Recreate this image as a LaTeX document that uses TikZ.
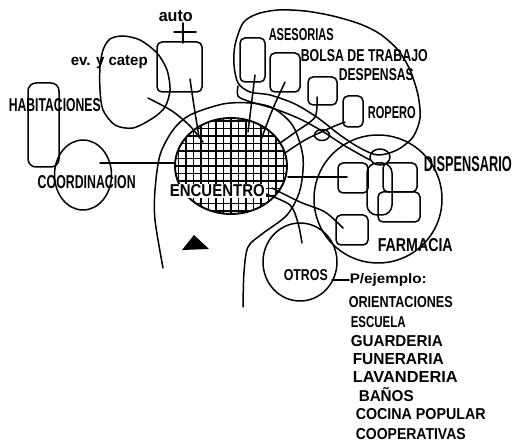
\documentclass[tikz,border=0pt]{standalone}
\usepackage{fontspec}
\setmainfont{Liberation Sans}
\usepackage{graphicx}
\usetikzlibrary{shapes.geometric}
\newcommand{\hw}[3]{\resizebox{#1pt}{#2pt}{\bfseries #3}}
\begin{document}
\begin{tikzpicture}[x=1pt,y=-1pt, line width=1.5pt, line cap=round, line join=round,
  sbox/.style={draw, rounded corners=5pt, inner sep=0pt},
  blob/.style={draw, ellipse, inner sep=0pt},
  txt/.style={inner sep=0pt, anchor=west},
  hatch/.style={draw, ellipse, line width=1.9pt, inner sep=0pt,
    path picture={\draw[line width=1.3pt] ([xshift=-3pt,yshift=-3pt]path picture bounding box.south west) grid[step=7.5pt] ([xshift=3pt,yshift=3pt]path picture bounding box.north east);}}]
\useasboundingbox[fill=white] (0,0) rectangle (514,446);

% central hatched area
\node[hatch, minimum width=112pt, minimum height=96pt] (enc) at (231,166) {};

% outer boundary around encuentro
\draw plot[smooth] coordinates {(163,268) (155,220) (155,190) (160,155) (173,130) (190,115) (223,104) (250,103) (273,108) (293,126) (303,157) (300,190) (287,215) (262,234) (248,247) (244,272) (243,307)};

% auto
\node[txt] (tauto) at (158,16) {\hw{34}{11}{auto}};
\coordinate (cr1) at (183,23); \coordinate (cr2) at (183,43);
\coordinate (cr3) at (174,32); \coordinate (cr4) at (196,32);
\draw (cr1) -- (cr2); \draw (cr3) -- (cr4);
\node[sbox, minimum width=45pt, minimum height=50pt] (autob) at (179.5,67) {};
\coordinate (au1) at (190,79); \coordinate (au2) at (199,137);
\draw (au1) .. controls (193,100) .. (au2);

% ev y catep blob
\draw plot[smooth cycle] coordinates {(100,67) (103,50) (110,39) (123,36) (140,40) (157,53) (167,70) (170,90) (165,107) (153,118) (133,128) (115,125) (103,110) (100,90)};
\node[txt] (tev) at (70,62) {\hw{77}{10}{ev. y catep}};
\coordinate (ev1) at (148,98); \coordinate (ev2) at (203,142);
\draw plot[smooth] coordinates {(ev1) (172,111) (190,126) (ev2)};

% habitaciones
\node[sbox, rounded corners=8pt, minimum width=31pt, minimum height=84pt] (hab) at (43.5,125) {};
\node[txt] (thab) at (8,105) {\hw{92}{13}{HABITACIONES}};

% coordinacion
\node[blob, minimum width=57pt, minimum height=70pt] (coord) at (83,175) {};
\node[txt] (tcoord) at (37,182) {\hw{98}{13}{COORDINACION}};
\coordinate (co1) at (100,163);
\draw (co1) -- (enc.west |- co1);

% services cloud
\draw plot[smooth cycle] coordinates {(235,45) (243,23) (257,14) (278,10) (305,11) (333,16) (360,24) (380,34) (398,50) (410,70) (418,95) (420,118) (413,137) (397,150) (378,155) (360,148) (340,135) (318,118) (295,104) (270,95) (250,92) (238,83) (234,65)};
\draw plot[smooth] coordinates {(238,86) (238,96) (248,101) (275,109) (300,119) (322,131) (345,146) (370,160)};

\node[sbox, minimum width=25pt, minimum height=44pt] (ases) at (252.5,60) {};
\node[txt] (tases) at (268,35) {\hw{65}{12}{ASESORIAS}};
\coordinate (as1) at (255,75); \coordinate (as2) at (248,132);
\draw (as1) -- (as2);

\node[sbox, minimum width=30pt, minimum height=39pt] (bolsa) at (285,72.5) {};
\node[txt] (tbolsa) at (300,56) {\hw{127}{12}{BOLSA DE TRABAJO}};
\coordinate (bo1) at (285,82); \coordinate (bo2) at (261,140);
\draw (bo1) .. controls (272,110) .. (bo2);

\node[sbox, minimum width=29pt, minimum height=28pt] (desp) at (322.5,91) {};
\node[txt] (tdesp) at (338,75) {\hw{75}{12}{DESPENSAS}};
\coordinate (de1) at (317,97); \coordinate (de2) at (280,143);
\draw plot[smooth] coordinates {(de1) (315,117) (297,131) (de2)};

\node[sbox, minimum width=20pt, minimum height=31pt] (rop) at (353,111.5) {};
\node[txt] (trop) at (367,113) {\hw{48}{12}{ROPERO}};
\coordinate (ro1) at (345,122); \coordinate (ro2) at (285,153);
\draw plot[smooth] coordinates {(ro1) (330,128) (305,140) (ro2)};
\node[blob, minimum width=15pt, minimum height=11pt] (loop1) at (322,135) {};

% dispensario
\node[draw, circle, minimum size=128pt, inner sep=0pt] (disp) at (378,199) {};
\node[blob, minimum width=20pt, minimum height=16pt] (dsm) at (380,157) {};
\node[txt] (tdisp) at (423,164) {\hw{88}{15}{DISPENSARIO}};
\node[sbox, minimum width=30pt, minimum height=30pt] (da) at (353,178) {};
\node[sbox, rounded corners=10pt, minimum width=25pt, minimum height=52pt] (dt) at (379.5,189) {};
\node[sbox, minimum width=34pt, minimum height=29pt] (db) at (400,177.5) {};
\node[sbox, minimum width=42pt, minimum height=30pt] (dc) at (399,207) {};
\coordinate (da1) at (347,177);
\draw (enc.east |- da1) -- (da1);

% farmacia
\node[sbox, minimum width=32pt, minimum height=30pt] (farm) at (352,230) {};
\node[txt] (tfarm) at (377,245) {\hw{75}{13}{FARMACIA}};
\coordinate (fa1) at (272,188); \coordinate (fa2) at (343,228);
\draw plot[smooth] coordinates {(fa1) (300,202) (325,212) (fa2)};

% otros
\node[blob, minimum width=74pt, minimum height=78pt] (otros) at (300,262) {};
\node[txt] (totros) at (283,275) {\hw{44}{11}{OTROS}};
\coordinate (ot1) at (266,194); \coordinate (ot2) at (302,243);
\draw plot[smooth] coordinates {(ot1) (290,205) (298,223) (ot2)};
\coordinate (dash1) at (332,280);
\node[txt] (tej) at (349,280) {\hw{77}{10}{P/ejemplo:}};
\draw (dash1) -- (tej.west);

% examples list
\node[txt] (l1) at (348,302) {\hw{104}{11}{ORIENTACIONES}};
\node[txt] (l2) at (350,322) {\hw{55}{11}{ESCUELA}};
\node[txt] (l3) at (350,341) {\hw{92}{11}{GUARDERIA}};
\node[txt] (l4) at (352,359) {\hw{91}{11}{FUNERARIA}};
\node[txt] (l5) at (352,377) {\hw{105}{11}{LAVANDERIA}};
\node[txt] (l6) at (358,395) {\hw{55}{14}{BAÑOS}};
\node[txt] (l7) at (355,414) {\hw{130}{11}{COCINA POPULAR}};
\node[txt] (l8) at (355,434) {\hw{110}{11}{COOPERATIVAS}};

% encuentro label
\node[txt, fill=white, inner sep=1pt] (tenc) at (168,191) {\hw{95}{12}{ENCUENTRO}};

% triangle
\fill (182,250) -- (194,235) -- (209,249) -- cycle;
\end{tikzpicture}
\end{document}
